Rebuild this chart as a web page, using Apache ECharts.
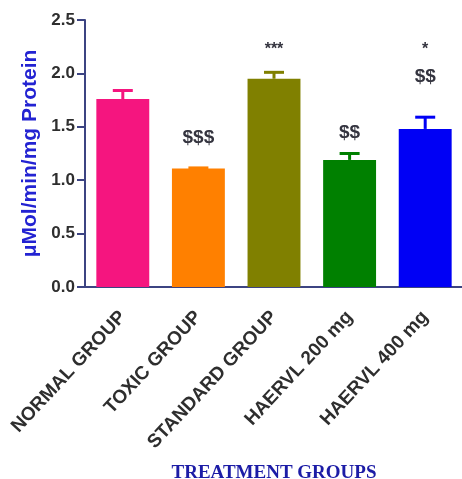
<!DOCTYPE html>
<html>
<head>
<meta charset="utf-8">
<script src="https://cdn.jsdelivr.net/npm/echarts@6/dist/echarts.min.js"></script>
<style>
  html, body { margin: 0; padding: 0; background: #fff; }
  #chart { width: 462px; height: 479px; }
</style>
</head>
<body>
<div id="chart"></div>
<script>
// Enzyme activity by treatment group (mean ± SEM)
const categories = ['NORMAL GROUP', 'TOXIC GROUP', 'STANDARD GROUP', 'HAERVL 200 mg', 'HAERVL 400 mg'];
const means = [1.76, 1.11, 1.95, 1.19, 1.48];
const sem = [0.08, 0.005, 0.06, 0.06, 0.11];
const barColors = ['#f5157f', '#ff8000', '#808000', '#008000', '#0000f5'];
const starMarks = ['', '', '***', '', '*'];
const dollarMarks = ['', '$$$', '', '$$', '$$'];
const yTicks = [0.0, 0.5, 1.0, 1.5, 2.0, 2.5];

// heights (in axis units) where the significance marks sit
const starLevel = 2.22;
const dollarLevel = [null, 1.40, null, 1.44, 1.97];

const axisColor = '#3c4482';
const markColor = '#34343f';

const chart = echarts.init(document.getElementById('chart'));

chart.setOption({
  animation: false,
  grid: { left: 85, top: 20, width: 378, height: 267, containLabel: false, outerBoundsMode: 'none' },
  xAxis: {
    type: 'category',
    data: categories,
    axisLine: { lineStyle: { color: axisColor, width: 2 } },
    axisTick: { alignWithLabel: true, length: 9, lineStyle: { color: axisColor, width: 2 } },
    axisLabel: {
      rotate: 47, interval: 0, margin: 27,
      color: '#2e2e2e', fontFamily: 'Liberation Sans, Arial, sans-serif',
      fontWeight: 'bold', fontSize: 19
    },
    name: 'TREATMENT GROUPS',
    nameLocation: 'middle',
    nameGap: 177,
    nameTextStyle: {
      color: '#1c1ca6', fontFamily: 'Liberation Serif, Times New Roman, serif',
      fontWeight: 'bold', fontSize: 19
    }
  },
  yAxis: {
    type: 'value',
    min: 0, max: 2.5, interval: 0.5,
    splitLine: { show: false },
    axisLine: { show: true, lineStyle: { color: axisColor, width: 2 } },
    axisTick: { show: true, length: 8, lineStyle: { color: axisColor, width: 2 } },
    axisLabel: {
      margin: 10,
      color: '#2e2e2e', fontFamily: 'Liberation Sans, Arial, sans-serif',
      fontWeight: 'bold', fontSize: 17,
      formatter: v => yTicks.includes(v) ? v.toFixed(1) : ''
    },
    name: 'μMol/min/mg Protein',
    nameLocation: 'middle',
    nameGap: 35,
    nameTextStyle: {
      color: '#2323d2', fontFamily: 'Liberation Sans, Arial, sans-serif',
      fontWeight: 'bold', fontSize: 21
    }
  },
  series: [
    {
      type: 'bar',
      barWidth: '70%',
      data: means.map((v, i) => ({ value: v, itemStyle: { color: barColors[i] } })),
      z: 2
    },
    {
      // upper error whiskers with caps
      type: 'custom',
      z: 3,
      data: means.map((v, i) => [i, v, v + sem[i]]),
      renderItem: (params, api) => {
        const i = api.value(0);
        const base = api.coord([i, api.value(1)]);
        const top = api.coord([i, api.value(2)]);
        const half = 10;
        const style = { stroke: barColors[i], lineWidth: 3 };
        return {
          type: 'group',
          children: [
            { type: 'line', shape: { x1: base[0], y1: base[1], x2: top[0], y2: top[1] }, style },
            { type: 'line', shape: { x1: top[0] - half, y1: top[1], x2: top[0] + half, y2: top[1] }, style }
          ]
        };
      }
    },
    {
      // significance marks
      type: 'custom',
      z: 4,
      data: categories.map((c, i) => [i]),
      renderItem: (params, api) => {
        const i = api.value(0);
        const children = [];
        if (starMarks[i]) {
          const p = api.coord([i, starLevel]);
          children.push({ type: 'text', x: p[0], y: p[1], style: {
            text: starMarks[i], fill: markColor, align: 'center', verticalAlign: 'middle',
            font: 'bold 16px Liberation Sans, Arial, sans-serif'
          }});
        }
        if (dollarMarks[i]) {
          const p = api.coord([i, dollarLevel[i]]);
          children.push({ type: 'text', x: p[0], y: p[1], style: {
            text: dollarMarks[i], fill: markColor, align: 'center', verticalAlign: 'middle',
            font: 'bold 19px Liberation Sans, Arial, sans-serif'
          }});
        }
        return { type: 'group', children };
      }
    }
  ]
});
</script>
</body>
</html>
